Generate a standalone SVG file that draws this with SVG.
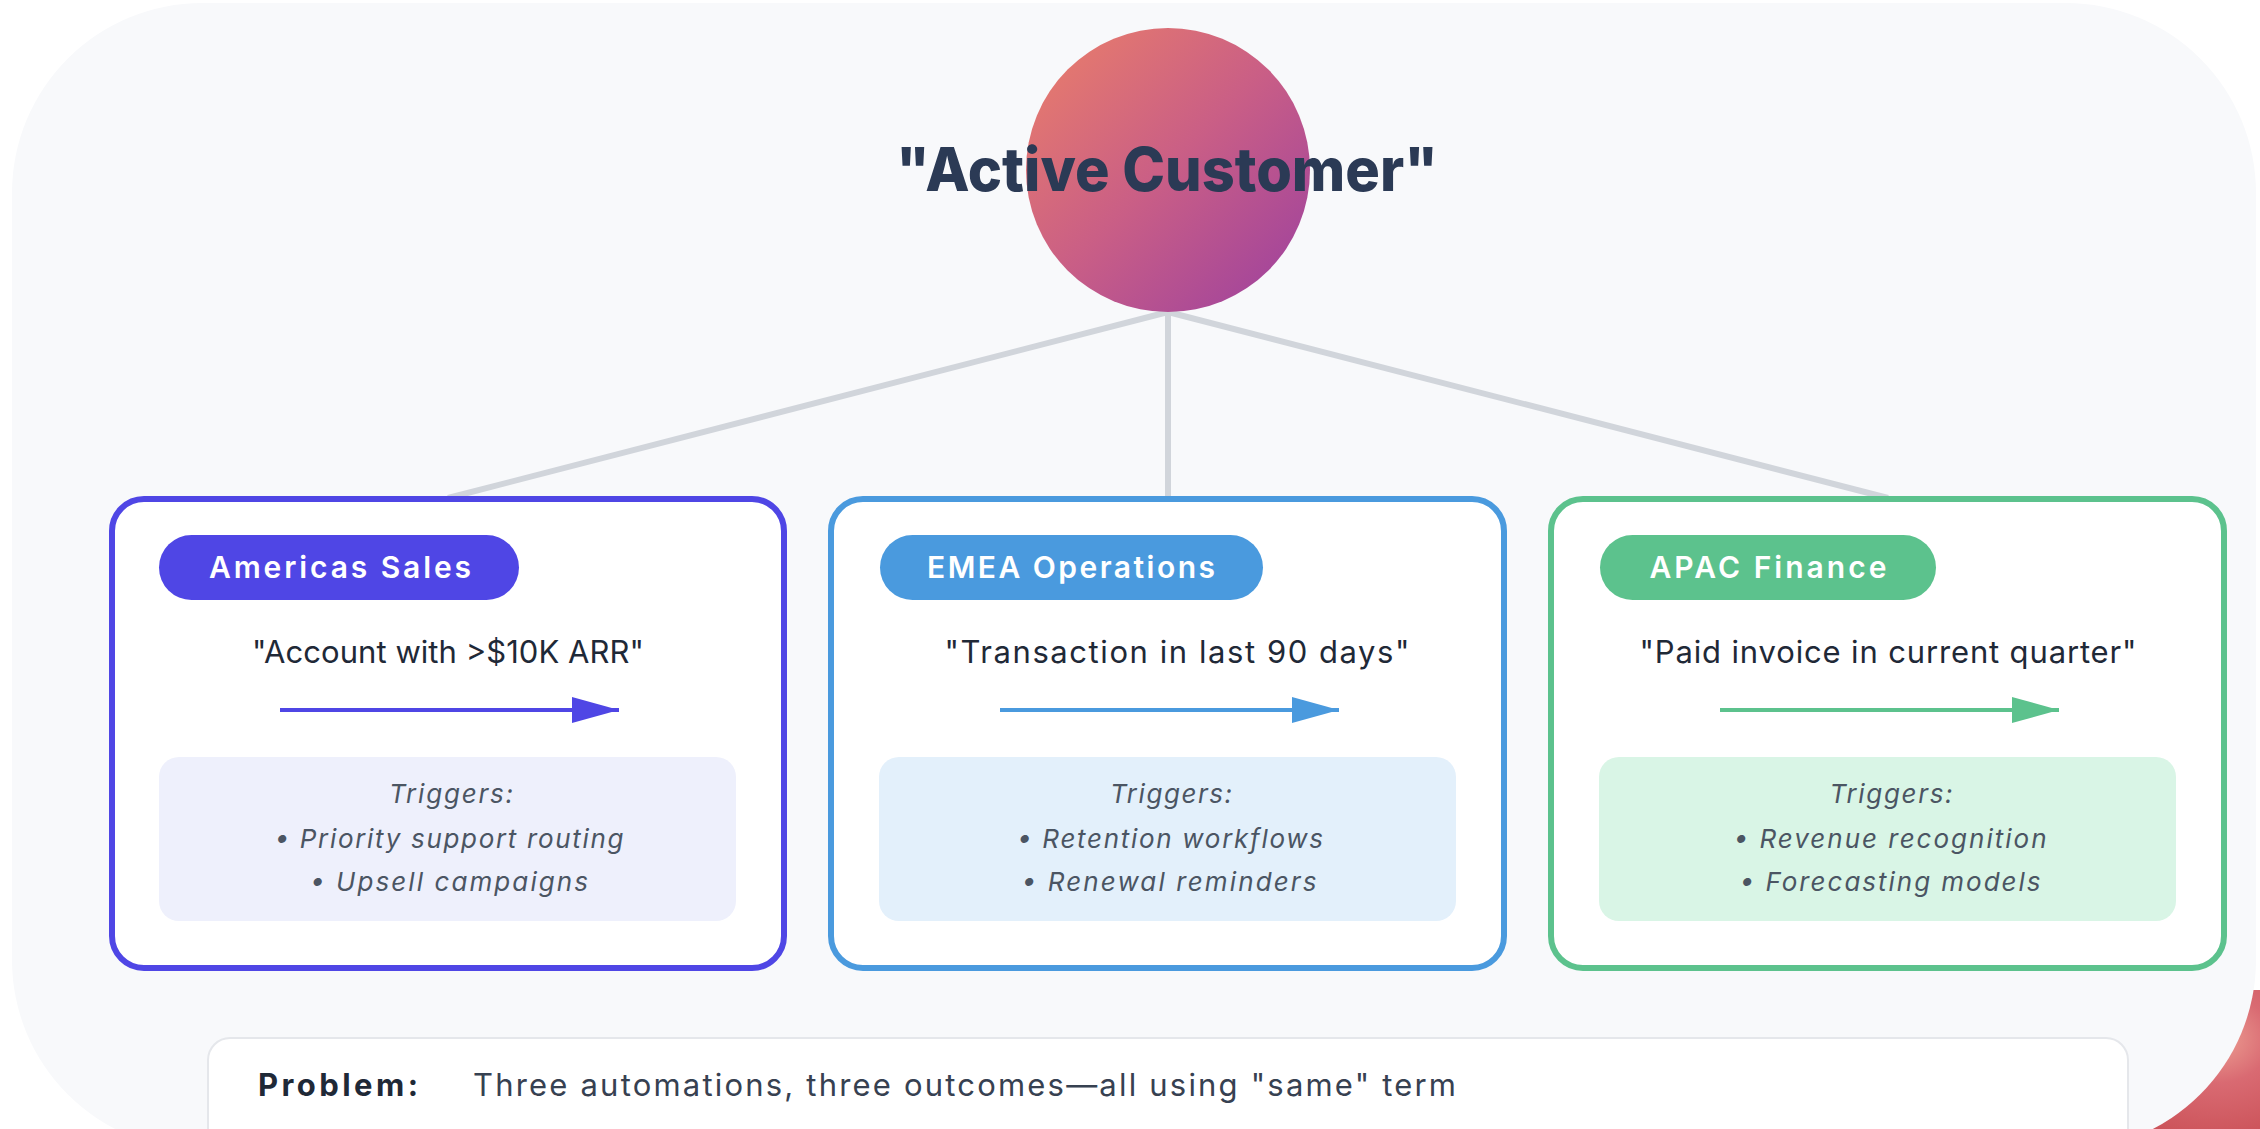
<svg xmlns="http://www.w3.org/2000/svg" width="2260" height="1129" viewBox="0 0 2260 1129">
<defs>
<linearGradient id="orb" x1="0" y1="0" x2="1" y2="1">
<stop offset="0" stop-color="#ec8068"/>
<stop offset="0.5" stop-color="#c95e86"/>
<stop offset="1" stop-color="#9a3fa0"/>
</linearGradient>
<radialGradient id="deco" cx="0.75" cy="0.35" r="0.8">
<stop offset="0" stop-color="#eea194"/>
<stop offset="0.4" stop-color="#d96a72"/>
<stop offset="1" stop-color="#c94f55"/>
</radialGradient>
<marker id="ah1" viewBox="0 0 10 10" refX="10" refY="5" markerWidth="47" markerHeight="26" markerUnits="userSpaceOnUse" orient="auto" preserveAspectRatio="none"><path d="M0,0 L10,5 L0,10 Z" fill="#4f46e5"/></marker>
<marker id="ah2" viewBox="0 0 10 10" refX="10" refY="5" markerWidth="47" markerHeight="26" markerUnits="userSpaceOnUse" orient="auto" preserveAspectRatio="none"><path d="M0,0 L10,5 L0,10 Z" fill="#4a9ade"/></marker>
<marker id="ah3" viewBox="0 0 10 10" refX="10" refY="5" markerWidth="47" markerHeight="26" markerUnits="userSpaceOnUse" orient="auto" preserveAspectRatio="none"><path d="M0,0 L10,5 L0,10 Z" fill="#5cc28d"/></marker>
</defs>
<style>
text{font-family:Inter,"Liberation Sans",sans-serif}
.card{fill:#ffffff;stroke-width:6}
.pilltxt{font-size:30px;font-weight:600;fill:#ffffff;text-anchor:middle}
.def{font-size:31px;font-weight:400;fill:#1f2937;text-anchor:middle}
.trig{font-size:26px;font-style:italic;fill:#4b5563;text-anchor:middle}
.conn{stroke:#d1d5db;stroke-width:6;fill:none}
.arrow{stroke-width:4;fill:none}
</style>
<rect x="0" y="0" width="2260" height="1129" fill="#ffffff"/>
<rect x="2080" y="990" width="180" height="139" fill="url(#deco)"/>
<rect id="panel" x="12" y="3" width="2244" height="1147" rx="190" ry="190" fill="#f8f9fb"/>

<g id="connectors">
<line class="conn" x1="1168" y1="312" x2="448" y2="498"/>
<line class="conn" x1="1168" y1="312" x2="1168" y2="498"/>
<line class="conn" x1="1168" y1="312" x2="1888" y2="498"/>
</g>

<g id="term">
<circle cx="1168" cy="170" r="142" fill="url(#orb)"/>
<text x="1167" y="191" font-size="60" font-weight="800" fill="#2b3a55" text-anchor="middle" textLength="542" lengthAdjust="spacingAndGlyphs">"Active Customer"</text>
</g>

<g id="americas">
<rect class="card" x="112" y="499" width="672" height="469" rx="32" stroke="#4f46e5"/>
<rect x="159" y="535" width="360" height="65" rx="32.5" fill="#4f46e5"/>
<text class="pilltxt" x="340" y="578" textLength="262">Americas Sales</text>
<text class="def" x="448" y="663" textLength="392">"Account with &gt;$10K ARR"</text>
<line class="arrow" x1="280" y1="710" x2="619" y2="710" stroke="#4f46e5" marker-end="url(#ah1)"/>
<rect x="159" y="757" width="577" height="164" rx="20" fill="#eef0fc"/>
<text class="trig" x="451" y="803" textLength="124">Triggers:</text>
<text class="trig" x="449" y="848" textLength="349">• Priority support routing</text>
<text class="trig" x="449" y="891" textLength="278">• Upsell campaigns</text>
</g>

<g id="emea">
<rect class="card" x="831" y="499" width="673" height="469" rx="32" stroke="#4a9ade"/>
<rect x="880" y="535" width="383" height="65" rx="32.5" fill="#4a9ade"/>
<text class="pilltxt" x="1071" y="578" textLength="288">EMEA Operations</text>
<text class="def" x="1177" y="663" textLength="465">"Transaction in last 90 days"</text>
<line class="arrow" x1="1000" y1="710" x2="1339" y2="710" stroke="#4a9ade" marker-end="url(#ah2)"/>
<rect x="879" y="757" width="577" height="164" rx="20" fill="#e3f0fb"/>
<text class="trig" x="1171" y="803" textLength="122">Triggers:</text>
<text class="trig" x="1170" y="848" textLength="306">• Retention workflows</text>
<text class="trig" x="1169" y="891" textLength="295">• Renewal reminders</text>
</g>

<g id="apac">
<rect class="card" x="1551" y="499" width="673" height="469" rx="32" stroke="#5cc28d"/>
<rect x="1600" y="535" width="336" height="65" rx="32.5" fill="#5cc28d"/>
<text class="pilltxt" x="1768" y="578" textLength="237">APAC Finance</text>
<text class="def" x="1888" y="663" textLength="497">"Paid invoice in current quarter"</text>
<line class="arrow" x1="1720" y1="710" x2="2059" y2="710" stroke="#5cc28d" marker-end="url(#ah3)"/>
<rect x="1599" y="757" width="577" height="164" rx="20" fill="#d9f5e6"/>
<text class="trig" x="1891" y="803" textLength="123">Triggers:</text>
<text class="trig" x="1890" y="848" textLength="313">• Revenue recognition</text>
<text class="trig" x="1890" y="891" textLength="301">• Forecasting models</text>
</g>

<g id="problem">
<rect x="208" y="1038" width="1920" height="130" rx="22" fill="#ffffff" stroke="#e5e7eb" stroke-width="2"/>
<text x="258" y="1096" font-size="31" font-weight="700" fill="#1f2937" textLength="160">Problem:</text>
<text x="473" y="1096" font-size="31" font-weight="400" fill="#374151" textLength="983">Three automations, three outcomes—all using "same" term</text>
</g>
</svg>
